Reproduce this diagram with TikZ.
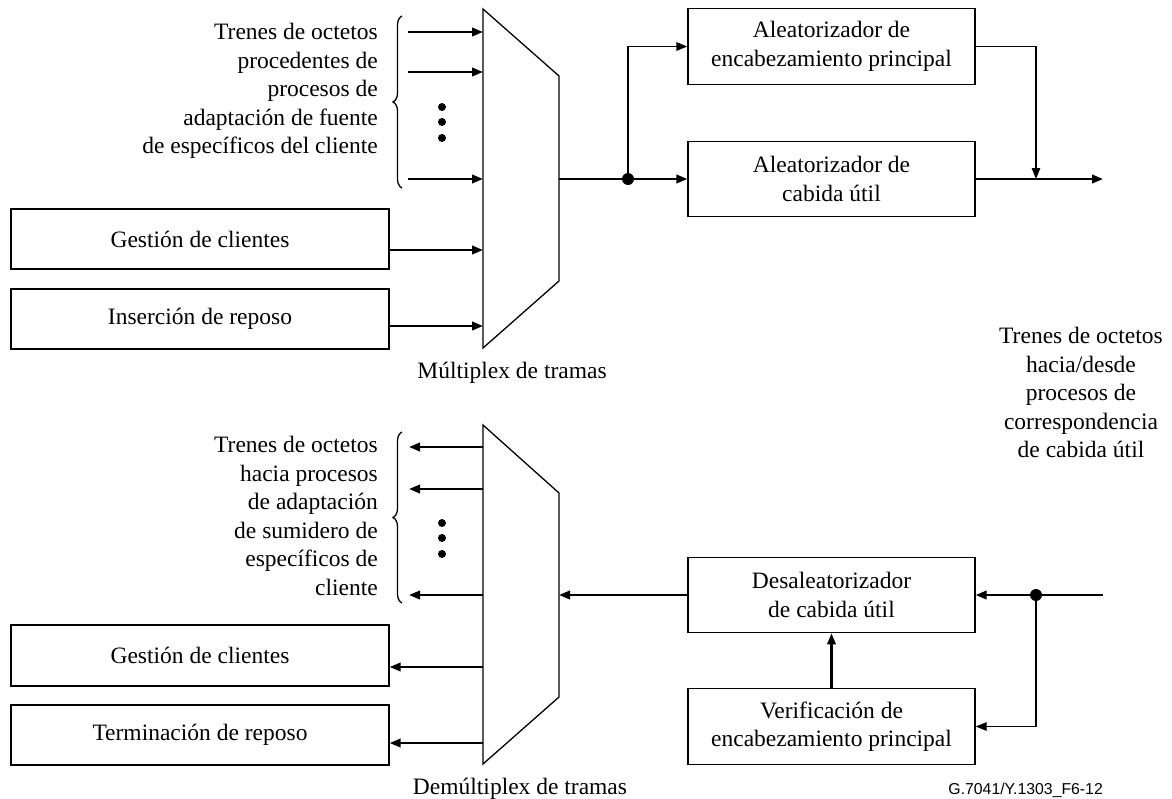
\documentclass[tikz,border=0pt]{standalone}
\usepackage{fontspec}
\setmainfont{Liberation Serif}
\newfontfamily\labelsans{Liberation Sans}
\usetikzlibrary{arrows.meta,decorations.pathreplacing}
\begin{document}
\begin{tikzpicture}[x=1pt,y=-1pt,
  every node/.style={font=\fontsize{23.5}{28.5}\selectfont},
  thinl/.style={line width=1.3pt},
  flow/.style={line width=2.3pt},
  arr/.style={-{Triangle[length=11pt,width=8.5pt]}},
  lbox/.style={draw, line width=1.3pt, minimum width=378pt, minimum height=60pt, inner sep=0pt, align=center},
  rbox/.style={draw, line width=1.3pt, minimum width=287pt, minimum height=75.5pt, inner sep=0pt, align=center},
  sdot/.style={circle, fill, inner sep=0pt, minimum size=8pt},
  jdot/.style={circle, fill, inner sep=0pt, minimum size=12pt},
  brc/.style={line width=1.3pt, decorate, decoration={brace, amplitude=9pt}},
  lbl/.style={inner sep=0pt}
]
\useasboundingbox (0,0) rectangle (1172,798);

% ---------- top: multiplexer ----------
\coordinate (m1) at (483,9);
\coordinate (m2) at (559,76);
\coordinate (m3) at (559,281);
\coordinate (m4) at (483,348);
\draw[thinl, line join=miter] (m1) -- (m2) -- (m3) -- (m4) -- cycle;

\node[lbox] (gcA) at (200,239) {Gestión de clientes};
\node[lbox] (ir) at (200,319) {Inserción de reposo};
\node[rbox] (aep) at (831.5,46.5) {Aleatorizador de\\encabezamiento principal};
\node[rbox] (acu) at (831.5,179) {Aleatorizador de\\cabida útil};

\node[lbl, anchor=east, align=right] (lblA) at (378,91)
  {Trenes de octetos\\procedentes de\\procesos de\\adaptación de fuente\\de específicos del cliente};
\node[lbl] (mux) at (512,372.5) {Múltiplex de tramas};

\draw[brc] (402,188) -- (402,16);

\coordinate (a1) at (408,32);  \coordinate (b1) at (483,32);
\coordinate (a2) at (408,72);  \coordinate (b2) at (483,72);
\coordinate (a3) at (408,179); \coordinate (b3) at (483,179);
\draw[flow, arr] (a1) -- (b1);
\draw[flow, arr] (a2) -- (b2);
\draw[flow, arr] (a3) -- (b3);
\node[sdot] (d1) at (442,107) {};
\node[sdot] (d2) at (442,122) {};
\node[sdot] (d3) at (442,138) {};

\coordinate (b4) at (483,250);
\coordinate (b5) at (483,326);
\draw[flow, arr] (gcA.east |- b4) -- (b4);
\draw[flow, arr] (ir.east |- b5) -- (b5);

\coordinate (mo) at (559,179);
\node[jdot] (jA) at (628,179) {};
\coordinate (jB) at (1036,179);
\coordinate (outA) at (1103,179);
\draw[flow, arr] (mo) -- (acu.west);
\draw[thinl, arr] (jA.center) |- (aep.west);
\draw[thinl, arr] (aep.east) -| (jB);
\draw[flow, arr] (acu.east) -- (outA);

% ---------- right label ----------
\node[lbl, align=center] (lblR) at (1081,392.5)
  {Trenes de octetos\\hacia/desde\\procesos de\\correspondencia\\de cabida útil};

% ---------- bottom: demultiplexer ----------
\coordinate (n1) at (483,425);
\coordinate (n2) at (559,493);
\coordinate (n3) at (559,697);
\coordinate (n4) at (483,764);
\draw[thinl, line join=miter] (n1) -- (n2) -- (n3) -- (n4) -- cycle;

\node[lbox, minimum height=61pt] (gcB) at (200,655.5) {Gestión de clientes};
\node[lbox] (tr) at (200,735) {Terminación de reposo};
\node[rbox] (dcu) at (831.5,595) {Desaleatorizador\\de cabida útil};
\node[rbox] (veh) at (831.5,726.5) {Verificación de\\encabezamiento principal};

\node[lbl, anchor=east, align=right] (lblB) at (378,516)
  {Trenes de octetos\\hacia procesos\\de adaptación\\de sumidero de\\específicos de\\cliente};
\node[lbl] (demux) at (520,788.5) {Demúltiplex de tramas};

\draw[brc] (402,603) -- (402,432);

\coordinate (c1) at (483,447); \coordinate (e1) at (409,447);
\coordinate (c2) at (483,489); \coordinate (e2) at (409,489);
\coordinate (c3) at (483,595); \coordinate (e3) at (409,595);
\draw[flow, arr] (c1) -- (e1);
\draw[flow, arr] (c2) -- (e2);
\draw[flow, arr] (c3) -- (e3);
\node[sdot] (d4) at (442,523) {};
\node[sdot] (d5) at (442,538) {};
\node[sdot] (d6) at (442,554) {};

\coordinate (c4) at (483,667);
\coordinate (c5) at (483,743);
\draw[flow, arr] (c4) -- (gcB.east |- c4);
\draw[flow, arr] (c5) -- (tr.east |- c5);

\coordinate (mi) at (559,595);
\coordinate (inB) at (1103,595);
\node[jdot] (jC) at (1036,595) {};
\draw[flow, arr] (inB) -- (dcu.east);
\draw[thinl, arr] (jC.center) |- (veh.east);
\draw[flow, arr] (veh.north) -- (dcu.south);
\draw[flow, arr] (dcu.west) -- (mi);

\node[lbl, anchor=base east, font=\labelsans\fontsize{15.8}{18}\selectfont] (ref) at (1103,794) {G.7041/Y.1303\_F6-12};
\end{tikzpicture}
\end{document}
